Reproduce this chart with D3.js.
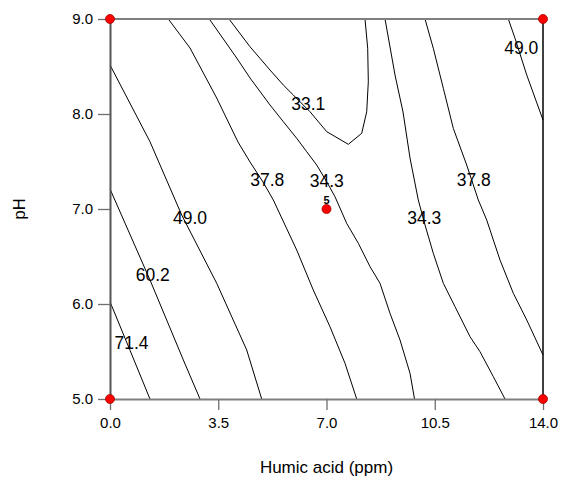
<!DOCTYPE html>
<html>
<head>
<meta charset="utf-8">
<script src="https://cdn.jsdelivr.net/npm/d3@7"></script>
<style>
  html, body { margin: 0; padding: 0; background: #fff; }
  svg { display: block; }
  text { font-family: "Liberation Sans", Arial, Helvetica, sans-serif; fill: #000; }
</style>
</head>
<body>
<svg id="chart" width="566" height="484"></svg>
<script>
// Axis ticks
const humicTicks = [0, 3.5, 7, 10.5, 14];
const phTicks = [5, 6, 7, 8, 9];

// Contour lines, as [humic acid (ppm), pH] vertices
const c714 = [[0, 6.024], [0.65, 5.51], [1.293, 5.0]];
const c602 = [[0, 7.211], [1.293, 6.253], [2.371, 5.411], [2.910, 5.0]];
const c490a = [[0, 8.516], [1.293, 7.708], [2.318, 6.937], [3.450, 6.218], [4.420, 5.516], [4.905, 5.0]];
const c378a = [[1.885, 9.0], [2.587, 8.695], [3.450, 8.168], [4.139, 7.705], [4.527, 7.495], [4.947, 7.284],
  [5.280, 7.095], [6.037, 6.568], [6.573, 6.147], [7.113, 5.761], [7.598, 5.376], [7.977, 5.0]];
const c343a = [[3.211, 9.0], [4.097, 8.589], [4.527, 8.379], [5.173, 8.095], [5.604, 7.919], [6.037, 7.744],
  [6.360, 7.603], [6.683, 7.463], [7.007, 7.287], [7.275, 7.129], [7.653, 6.849], [8.029, 6.639],
  [8.407, 6.393], [8.730, 6.218], [9.053, 5.902], [9.377, 5.621], [9.700, 5.271], [9.846, 5.0]];
const c331 = [[3.848, 9.0], [4.527, 8.708], [5.173, 8.463], [5.604, 8.305], [5.927, 8.2], [6.467, 8.024],
  [7.007, 7.814], [7.705, 7.681], [8.139, 7.797], [8.300, 8.024], [8.352, 8.340], [8.332, 8.692], [8.245, 9.0]];
const c343b = [[8.892, 9.0], [9.215, 8.411], [9.474, 8.021], [9.700, 7.537], [9.968, 7.095], [10.185, 6.832],
  [10.453, 6.534], [10.777, 6.218], [11.155, 5.972], [11.640, 5.656], [11.963, 5.498], [12.394, 5.235], [12.772, 5.0]];
const c378b = [[10.185, 9.0], [10.453, 8.692], [10.777, 8.271], [11.100, 7.849], [11.533, 7.463], [11.747, 7.253],
  [11.909, 7.095], [12.180, 6.884], [12.610, 6.463], [13.040, 6.113], [13.474, 5.832], [14.0, 5.463]];
const c490b = [[12.879, 9.0], [13.095, 8.797], [13.474, 8.411], [14.0, 7.937]];
const contourLines = [c714, c602, c490a, c378a, c343a, c331, c343b, c378b, c490b];

// Contour level labels and where they sit
const labelText = ["71.4", "60.2", "49.0", "37.8", "34.3", "33.1", "34.3", "37.8", "49.0"];
const labelHumic = [0.695, 1.384, 2.587, 5.083, 7.007, 6.412, 10.159, 11.760, 13.295];
const labelPh = [5.595, 6.308, 6.907, 7.305, 7.295, 8.113, 6.913, 7.305, 8.695];

// Design points (the centre point is replicated 5 times)
const designHumic = [0, 0, 14, 14, 7];
const designPh = [5, 9, 5, 9, 7];
const designCount = ["", "", "", "", "5"];

const svg = d3.select("#chart");
const plotLeft = 110, plotRight = 543, plotTop = 19, plotBottom = 399;

const x = d3.scaleLinear().domain([0, 14]).range([plotLeft, plotRight]);
const y = d3.scaleLinear().domain([5, 9]).range([plotBottom, plotTop]);

// Contour lines
const line = d3.line().x(d => x(d[0])).y(d => y(d[1])).curve(d3.curveLinear);
svg.append("g")
  .selectAll("path")
  .data(contourLines)
  .join("path")
  .attr("d", line)
  .attr("fill", "none")
  .attr("stroke", "#000")
  .attr("stroke-width", 1);

// Frame
const frame = svg.append("g");
frame.append("line").attr("x1", plotLeft).attr("x2", plotRight).attr("y1", plotTop).attr("y2", plotTop)
  .attr("stroke", "#7f7f7f").attr("stroke-width", 2);
frame.append("line").attr("x1", plotRight).attr("x2", plotRight).attr("y1", plotTop).attr("y2", plotBottom)
  .attr("stroke", "#000").attr("stroke-width", 1.5);

// Axes
const xAxis = d3.axisBottom(x).tickValues(humicTicks).tickFormat(d3.format(".1f"))
  .tickSizeInner(11).tickSizeOuter(0).tickPadding(7);
const gx = svg.append("g").attr("transform", `translate(0,${plotBottom})`).call(xAxis);
gx.select(".domain").attr("stroke", "#7f7f7f").attr("stroke-width", 2);
gx.selectAll(".tick line").attr("stroke", "#6f6f6f").attr("stroke-width", 1.3);
gx.selectAll(".tick text").style("font-size", "15px").attr("fill", "#000")
  .style("font-family", "'Liberation Sans', Arial, sans-serif");

const yAxis = d3.axisLeft(y).tickValues(phTicks).tickFormat(d3.format(".1f"))
  .tickSizeInner(12).tickSizeOuter(0).tickPadding(5);
const gy = svg.append("g").attr("transform", `translate(${plotLeft},0)`).call(yAxis);
gy.select(".domain").attr("stroke", "#555").attr("stroke-width", 2);
gy.selectAll(".tick line").attr("stroke", "#6f6f6f").attr("stroke-width", 1.3);
gy.selectAll(".tick text").style("font-size", "15px").attr("fill", "#000")
  .style("font-family", "'Liberation Sans', Arial, sans-serif");

// Contour labels
svg.append("g")
  .selectAll("text")
  .data(labelText)
  .join("text")
  .attr("x", (d, i) => x(labelHumic[i]))
  .attr("y", (d, i) => y(labelPh[i]))
  .attr("dy", "0.36em")
  .attr("text-anchor", "middle")
  .style("font-size", "17.5px")
  .text(d => d);

// Design points
const pts = svg.append("g");
pts.selectAll("circle")
  .data(designHumic)
  .join("circle")
  .attr("cx", d => x(d))
  .attr("cy", (d, i) => y(designPh[i]))
  .attr("r", 4.5)
  .attr("fill", "#ff0000")
  .attr("stroke", "#a00000")
  .attr("stroke-width", 0.8);
pts.selectAll("text")
  .data(designCount)
  .join("text")
  .attr("x", (d, i) => x(designHumic[i]))
  .attr("y", (d, i) => y(designPh[i]) - 9)
  .attr("dy", "0.36em")
  .attr("text-anchor", "middle")
  .style("font-size", "11px")
  .style("font-weight", "bold")
  .text(d => d);

// Axis titles
svg.append("text")
  .attr("x", (plotLeft + plotRight) / 2)
  .attr("y", 467)
  .attr("dy", "0.36em")
  .attr("text-anchor", "middle")
  .style("font-size", "17px")
  .text("Humic acid (ppm)");
svg.append("text")
  .attr("transform", `translate(19,${(plotTop + plotBottom) / 2}) rotate(-90)`)
  .attr("dy", "0.36em")
  .attr("text-anchor", "middle")
  .style("font-size", "16.5px")
  .text("pH");
</script>
</body>
</html>
